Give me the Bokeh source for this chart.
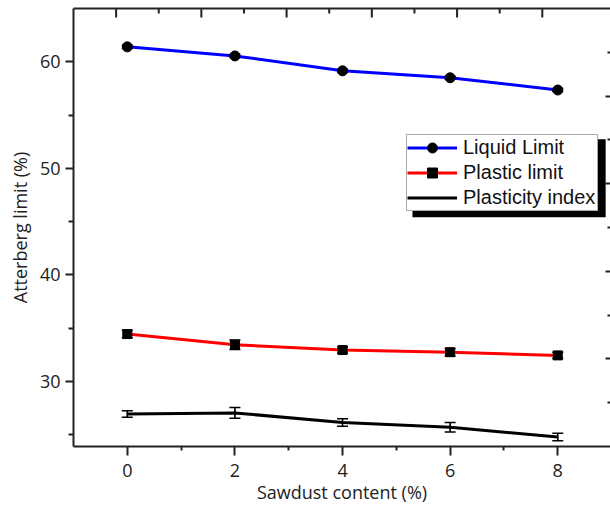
from bokeh.plotting import figure
from bokeh.models import (ColumnDataSource, Whisker, TeeHead, Legend, LegendItem,
                          LinearAxis, Range1d, FixedTicker, BoxAnnotation)
from bokeh.embed import file_html
from bokeh.resources import INLINE

# ---- data ----
sawdust = [0, 2, 4, 6, 8]
liquid_limit = [61.4, 60.55, 59.15, 58.5, 57.35]
liquid_err = [0.15, 0.15, 0.15, 0.15, 0.15]
plastic_limit = [34.45, 33.45, 32.95, 32.75, 32.45]
plastic_err = [0.35, 0.45, 0.3, 0.35, 0.3]
plasticity_index = [26.95, 27.05, 26.15, 25.7, 24.8]
plasticity_err = [0.3, 0.5, 0.35, 0.45, 0.35]

x_ticks = [0, 2, 4, 6, 8]
y_ticks = [30, 40, 50, 60]

FONT = "Open Sans"
LEGEND_FONT = "Liberation Sans"

X0, X1 = -1.0, 8.98
Y0, Y1 = 23.9, 65.0
FRAME_H = 438.0  # frame height in px

p = figure(width=610, height=512, output_backend="svg", toolbar_location=None,
           x_range=Range1d(X0, X1), y_range=Range1d(Y0, Y1),
           min_border_left=73, min_border_right=0, min_border_top=8, min_border_bottom=66)
p.outline_line_color = None
p.xgrid.visible = False
p.ygrid.visible = False
p.background_fill_color = "white"
p.border_fill_color = "white"

def style_axis(ax, tick_in=0, tick_out=8, minor_in=0, minor_out=4):
    ax.axis_line_width = 2
    ax.axis_line_color = "#222222"
    ax.major_tick_line_width = 2
    ax.minor_tick_line_width = 2
    ax.major_tick_line_color = "#222222"
    ax.minor_tick_line_color = "#222222"
    ax.major_tick_in = tick_in
    ax.major_tick_out = tick_out
    ax.minor_tick_in = minor_in
    ax.minor_tick_out = minor_out

xa = p.xaxis[0]
xa.ticker = FixedTicker(ticks=x_ticks, minor_ticks=[1, 3, 5, 7])
style_axis(xa, 0, 9, 0, 4)
xa.axis_label = "Sawdust content (%)"
xa.axis_label_text_font = FONT
xa.axis_label_text_font_style = "normal"
xa.axis_label_text_font_size = "18px"
xa.axis_label_text_color = "#222222"
xa.major_label_text_font = FONT
xa.major_label_text_font_size = "18px"
xa.major_label_text_color = "#222222"
xa.major_label_standoff = 8
xa.axis_label_standoff = 0

ya = p.yaxis[0]
ya.ticker = FixedTicker(ticks=y_ticks, minor_ticks=[25, 35, 45, 55])
style_axis(ya, 0, 8, 0, 5)
ya.axis_label = "Atterberg limit (%)"
ya.axis_label_text_font = FONT
ya.axis_label_text_font_style = "normal"
ya.axis_label_text_font_size = "18px"
ya.axis_label_text_color = "#222222"
ya.major_label_text_font = FONT
ya.major_label_text_font_size = "18px"
ya.major_label_text_color = "#222222"
ya.major_label_standoff = 5
ya.axis_label_standoff = 5

# top frame line (unlabelled)
top = LinearAxis(ticker=FixedTicker(ticks=[]), major_label_text_font_size="0px", major_label_standoff=0)
style_axis(top, 0, 0, 0, 0)
top.major_label_text_color = None
p.add_layout(top, "above")

# inward tick marks hanging from the top frame line (cropped original's secondary axis)
top_step = (X1 - X0) / 12.6
px_y = (Y1 - Y0) / FRAME_H
top_k = list(range(1, 12))
top_x = [X0 + k * top_step for k in top_k]
top_len = [(9 if k % 2 else 5) * px_y for k in top_k]
p.segment(x0=top_x, y0=[Y1] * len(top_x), x1=top_x, y1=[Y1 - d for d in top_len],
          line_color="#222222", line_width=2)

# right frame ticks (unlabelled)
right_step = (Y1 - Y0) / 10.0
right_major = [Y0 + k * right_step for k in (2, 4, 6, 8)]
right_minor = [Y0 + k * right_step for k in (1, 3, 5, 7, 9)]
right = LinearAxis(ticker=FixedTicker(ticks=right_major, minor_ticks=right_minor),
                   major_label_text_font_size="0px", major_label_standoff=0)
style_axis(right, 5, 0, 3, 0)
right.major_label_text_color = None
right.axis_line_color = None
p.add_layout(right, "right")

# ---- series ----
def series(y, err, color, marker, msize):
    src = ColumnDataSource(dict(x=sawdust, y=y,
                                lo=[a - b for a, b in zip(y, err)],
                                hi=[a + b for a, b in zip(y, err)]))
    ln = p.line("x", "y", source=src, line_color=color, line_width=3)
    w = Whisker(source=src, base="x", lower="lo", upper="hi", line_color="black", line_width=1.5,
                upper_head=TeeHead(size=11, line_color="black", line_width=1.5),
                lower_head=TeeHead(size=11, line_color="black", line_width=1.5))
    p.add_layout(w)
    if marker == "dash":
        mk = p.scatter("x", "y", source=src, marker="dash", angle=1.5708, size=msize,
                       line_color="black", line_width=1)
    else:
        mk = p.scatter("x", "y", source=src, marker=marker, size=msize,
                       fill_color="black", line_color="black")
    return [ln, mk]

ll = series(liquid_limit, liquid_err, "#0000ff", "circle", 10)
pl = series(plastic_limit, plastic_err, "#ff0000", "square", 9)
pi = series(plasticity_index, plasticity_err, "black", "dash", 8)

# legend shadow
shadow = BoxAnnotation(left=5.30, right=8.89, bottom=45.41, top=52.72,
                       fill_color="black", fill_alpha=1.0, line_color=None)
p.add_layout(shadow)

legend = Legend(items=[LegendItem(label="Liquid Limit", renderers=ll),
                       LegendItem(label="Plastic limit", renderers=pl),
                       LegendItem(label="Plasticity index", renderers=pi)],
                location=(333, 235), glyph_width=50, glyph_height=25, label_height=25,
                label_width=134, label_standoff=6, padding=0, spacing=0, margin=0,
                label_text_font=LEGEND_FONT, label_text_font_size="20px", label_text_color="#111111",
                border_line_color="#555555", border_line_width=1,
                background_fill_color="white", background_fill_alpha=1.0)
p.add_layout(legend, "center")

open("out.html", "w").write(file_html(p, INLINE))
